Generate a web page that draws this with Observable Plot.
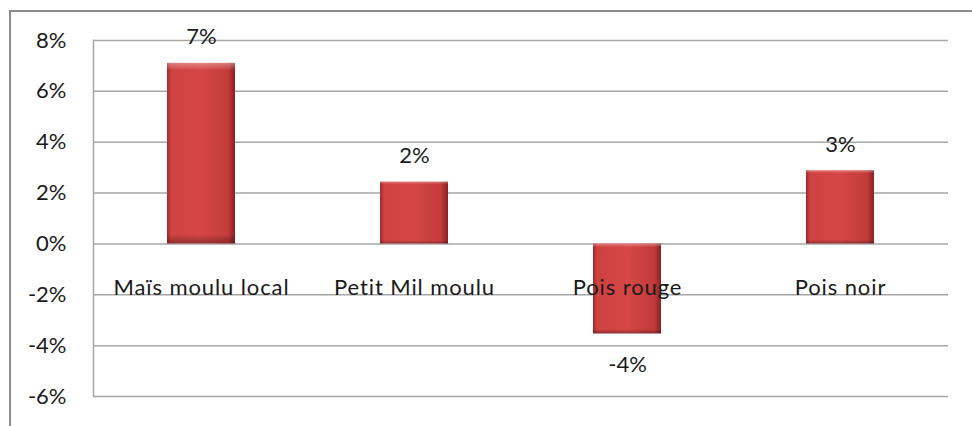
<!DOCTYPE html>
<html>
<head>
<meta charset="utf-8">
<script src="https://cdn.jsdelivr.net/npm/d3@7"></script>
<script src="https://cdn.jsdelivr.net/npm/@observablehq/plot@0.6"></script>
<style>
  html, body { margin: 0; padding: 0; background: #fff; }
  #wrap { position: relative; width: 972px; height: 426px; overflow: hidden; }
  #border { position: absolute; left: 9px; top: 10px; width: 1000px; height: 500px;
            border-top: 2px solid #8c8c8c; border-left: 2px solid #8c8c8c; box-sizing: border-box; pointer-events: none; z-index: 2; }
</style>
</head>
<body>
<div id="wrap"><div id="border"></div></div>
<script>
const categories = ["Maïs moulu local", "Petit Mil moulu", "Pois rouge", "Pois noir"];
const values = [7.1, 2.43, -3.54, 2.88];
const valueLabels = ["7%", "2%", "-4%", "3%"];
const yTicks = [-6, -4, -2, 0, 2, 4, 6, 8];

const data = categories.map((c, i) => ({cat: c, v: values[i], lab: valueLabels[i]}));
const font = "Lato, 'Open Sans', sans-serif";
const fs = 22;

const chart = Plot.plot({
  width: 972,
  height: 426,
  marginLeft: 93,
  marginRight: 24,
  marginTop: 40,
  marginBottom: 30,
  style: {fontFamily: font, fontSize: fs + "px", color: "#1a1a1a", background: "transparent"},
  x: {domain: categories, paddingInner: 0.68, paddingOuter: 0.34, axis: null},
  y: {domain: [-6, 8], ticks: yTicks, tickFormat: d => d + "%", tickSize: 0, tickPadding: 27, label: null},
  marks: [
    Plot.ruleY(yTicks, {stroke: "#a6a6a6", strokeWidth: 1.5, strokeOpacity: 1}),
    Plot.frame({anchor: "left", stroke: "#a6a6a6", strokeWidth: 1.5}),
    Plot.barY(data, {x: "cat", y: "v", fill: "url(#hgrad)", style: "filter: drop-shadow(2px 4px 3px rgba(0,0,0,0.35))"}),
    Plot.barY(data, {x: "cat", y: "v", fill: "url(#vgrad)"}),
    Plot.text(data, {x: "cat", y: 0, text: "cat", dy: 44, fontSize: fs, fill: "#1a1a1a"}),
    Plot.text(data.filter(d => d.v >= 0), {x: "cat", y: "v", text: "lab", dy: -26, fontSize: fs, fill: "#1a1a1a"}),
    Plot.text(data.filter(d => d.v < 0), {x: "cat", y: "v", text: "lab", dy: 31, fontSize: fs, fill: "#1a1a1a"})
  ]
});

const svg = d3.select(chart);
const defs = svg.insert("defs", ":first-child");
const hg = defs.append("linearGradient").attr("id", "hgrad").attr("x1", 0).attr("x2", 1).attr("y1", 0).attr("y2", 0);
[[0, "#9e2a2a"], [0.06, "#cf4242"], [0.5, "#d64646"], [0.9, "#c33b3b"], [1, "#8a2020"]]
  .forEach(([o, c]) => hg.append("stop").attr("offset", o).attr("stop-color", c));
const vg = defs.append("linearGradient").attr("id", "vgrad").attr("x1", 0).attr("x2", 0).attr("y1", 0).attr("y2", 1);
[[0, "#ffffff", 0.35], [0.04, "#ffffff", 0], [0.95, "#000000", 0], [1, "#000000", 0.3]]
  .forEach(([o, c, a]) => vg.append("stop").attr("offset", o).attr("stop-color", c).attr("stop-opacity", a));

// category labels are slightly wider in the reference
const textGroups = chart.querySelectorAll("g[aria-label='text']");
if (textGroups.length) textGroups[0].style.letterSpacing = "0.9px";

document.getElementById("wrap").appendChild(chart);
</script>
</body>
</html>
